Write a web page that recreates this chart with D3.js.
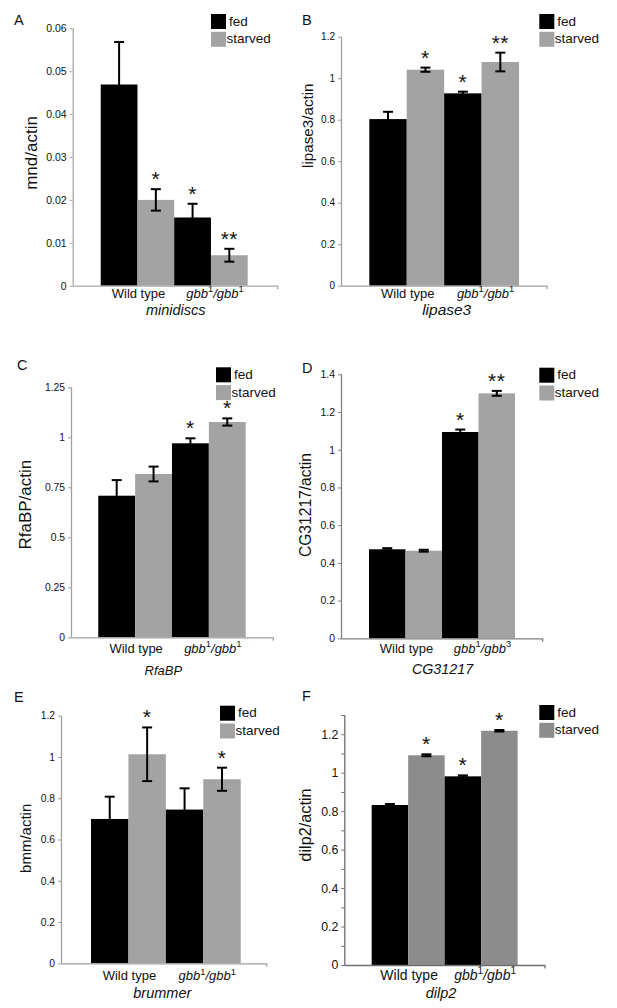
<!DOCTYPE html>
<html><head><meta charset="utf-8">
<script src="https://cdn.jsdelivr.net/npm/d3@7"></script>
<style>
body{margin:0;background:#fff}
svg{display:block}
text{font-family:"Liberation Sans",Arial,Helvetica,sans-serif;fill:#111}
</style>
</head><body>
<svg id="chart" width="617" height="1008"></svg>
<script>
// ---------------- DATA ----------------
const seriesNames = ["fed", "starved"];
const categories = ["Wild type", "gbb1/gbb1"];
const categoriesD = ["Wild type", "gbb1/gbb3"];

// A: minidiscs
const mndFed = [0.0469, 0.0159];
const mndFedErr = [0.0099, 0.0032];
const mndStarved = [0.0200, 0.0071];
const mndStarvedErr = [0.0025, 0.0015];
const mndFedSig = ["", "*"];
const mndStarvedSig = ["*", "**"];
const mndTicks = [0, 0.01, 0.02, 0.03, 0.04, 0.05, 0.06];
const mndTickLabels = ["0", "0.01", "0.02", "0.03", "0.04", "0.05", "0.06"];

// B: lipase3
const lipFed = [0.803, 0.927];
const lipFedErr = [0.035, 0.008];
const lipStarved = [1.041, 1.078];
const lipStarvedErr = [0.010, 0.045];
const lipFedSig = ["", "*"];
const lipStarvedSig = ["*", "**"];
const lipTicks = [0, 0.2, 0.4, 0.6, 0.8, 1, 1.2];
const lipTickLabels = ["0", "0.2", "0.4", "0.6", "0.8", "1", "1.2"];

// C: RfaBP
const rfaFed = [0.708, 0.970];
const rfaFedErr = [0.078, 0.025];
const rfaStarved = [0.8165, 1.0765];
const rfaStarvedErr = [0.037, 0.018];
const rfaFedSig = ["", "*"];
const rfaStarvedSig = ["", "*"];
const rfaTicks = [0, 0.25, 0.5, 0.75, 1, 1.25];
const rfaTickLabels = ["0", "0.25", "0.5", "0.75", "1", "1.25"];

// D: CG31217
const cgFed = [0.472, 1.094];
const cgFedErr = [0.006, 0.013];
const cgStarved = [0.4645, 1.299];
const cgStarvedErr = [0.005, 0.013];
const cgFedSig = ["", "*"];
const cgStarvedSig = ["", "**"];
const cgTicks = [0, 0.2, 0.4, 0.6, 0.8, 1, 1.2, 1.4];
const cgTickLabels = ["0", "0.2", "0.4", "0.6", "0.8", "1", "1.2", "1.4"];

// E: brummer
const bmmFed = [0.6995, 0.745];
const bmmFedErr = [0.108, 0.103];
const bmmStarved = [1.013, 0.892];
const bmmStarvedErr = [0.13, 0.056];
const bmmFedSig = ["", ""];
const bmmStarvedSig = ["*", "*"];
const bmmTicks = [0, 0.2, 0.4, 0.6, 0.8, 1, 1.2];
const bmmTickLabels = ["0", "0.2", "0.4", "0.6", "0.8", "1", "1.2"];

// F: dilp2
const dilpFed = [0.832, 0.981];
const dilpFedErr = [0.005, 0.005];
const dilpStarved = [1.0905, 1.218];
const dilpStarvedErr = [0.005, 0.004];
const dilpFedSig = ["", "*"];
const dilpStarvedSig = ["*", "*"];
const dilpTicks = [0, 0.2, 0.4, 0.6, 0.8, 1, 1.2];
const dilpTickLabels = ["0", "0.2", "0.4", "0.6", "0.8", "1", "1.2"];
const dilpMinorTicks = [0.1, 0.3, 0.5, 0.7, 0.9, 1.1, 1.3];

// ---------------- PANELS (data + layout) ----------------
const panels = [
  {letter:"A", title:"mnd/actin", gene:"minidiscs", cats:categories, max:0.06,
   fed:mndFed, fedErr:mndFedErr, starved:mndStarved, starvedErr:mndStarvedErr,
   fedSig:mndFedSig, starvedSig:mndStarvedSig, ticks:mndTicks, tickLabels:mndTickLabels, minor:[],
   L:{xL:72.7, xR:277.7, yB:285.7, yT:28.3, pad:0.395, align:0.483,
      letterX:14, letterY:25, titleX:31, titleY:153, titleSize:17,
      legX:211, legY:14, labY:297.7, geneX:175.7, geneY:315, geneSize:14.5,
      tickSize:10.5, labSize:13, axis:"#a8a8a8", starvedColor:"#a3a3a3"}},
  {letter:"B", title:"lipase3/actin", gene:"lipase3", cats:categories, max:1.2,
   fed:lipFed, fedErr:lipFedErr, starved:lipStarved, starvedErr:lipStarvedErr,
   fedSig:lipFedSig, starvedSig:lipStarvedSig, ticks:lipTicks, tickLabels:lipTickLabels, minor:[],
   L:{xL:341, xR:547, yB:285.7, yT:36.7, pad:0.376, align:0.503,
      letterX:302, letterY:25, titleX:307.5, titleY:125.7, titleSize:15.2,
      legX:539.3, legY:14, labY:297.7, geneX:446.7, geneY:315, geneSize:15.5,
      tickSize:10, labSize:13, axis:"#a0a0a0", starvedColor:"#a3a3a3"}},
  {letter:"C", title:"RfaBP/actin", gene:"RfaBP", cats:categories, max:1.25,
   fed:rfaFed, fedErr:rfaFedErr, starved:rfaStarved, starvedErr:rfaStarvedErr,
   fedSig:rfaFedSig, starvedSig:rfaStarvedSig, ticks:rfaTicks, tickLabels:rfaTickLabels, minor:[],
   L:{xL:71, xR:273.3, yB:637.3, yT:387.3, pad:0.372, align:0.497,
      letterX:17, letterY:370, titleX:25.5, titleY:504.7, titleSize:17,
      legX:216, legY:367.3, labY:652.7, geneX:163.3, geneY:675, geneSize:13,
      tickSize:10.3, labSize:13, axis:"#a0a0a0", starvedColor:"#a3a3a3"}},
  {letter:"D", title:"CG31217/actin", gene:"CG31217", cats:categoriesD, max:1.4,
   fed:cgFed, fedErr:cgFedErr, starved:cgStarved, starvedErr:cgStarvedErr,
   fedSig:cgFedSig, starvedSig:cgStarvedSig, ticks:cgTicks, tickLabels:cgTickLabels, minor:[],
   L:{xL:341, xR:542.7, yB:638.3, yT:374.3, pad:0.381, align:0.503,
      letterX:302, letterY:373, titleX:306, titleY:505, titleSize:15.6,
      legX:539.3, legY:367.7, labY:652.7, geneX:442.5, geneY:674, geneSize:14.3,
      tickSize:10.5, labSize:13, axis:"#808080", starvedColor:"#a3a3a3"}},
  {letter:"E", title:"bmm/actin", gene:"brummer", cats:categories, max:1.2,
   fed:bmmFed, fedErr:bmmFedErr, starved:bmmStarved, starvedErr:bmmStarvedErr,
   fedSig:bmmFedSig, starvedSig:bmmStarvedSig, ticks:bmmTicks, tickLabels:bmmTickLabels, minor:[],
   L:{xL:61, xR:266.7, yB:963.3, yT:715.7, pad:0.374, align:0.536,
      letterX:14, letterY:702, titleX:25.5, titleY:838.3, titleSize:15,
      legX:220, legY:705.7, labY:980, geneX:162.3, geneY:998.3, geneSize:14.5,
      tickSize:10.3, labSize:13, axis:"#a0a0a0", starvedColor:"#a3a3a3"}},
  {letter:"F", title:"dilp2/actin", gene:"dilp2", cats:categories, max:1.3,
   fed:dilpFed, fedErr:dilpFedErr, starved:dilpStarved, starvedErr:dilpStarvedErr,
   fedSig:dilpFedSig, starvedSig:dilpStarvedSig, ticks:dilpTicks, tickLabels:dilpTickLabels, minor:dilpMinorTicks,
   L:{xL:344.3, xR:545, yB:965, yT:715, pad:0.375, align:0.5,
      letterX:302, letterY:700.7, titleX:305, titleY:825, titleSize:16.3,
      legX:539.3, legY:705, labY:980, geneX:441, geneY:997.5, geneSize:14.5,
      tickSize:12.3, labSize:14, axis:"#707070", starvedColor:"#8c8c8c"}}
];

// ---------------- DRAW ----------------
const svg = d3.select("#chart");

function categoryLabel(sel, label, size) {
  const m = label.match(/^gbb(\d)\/gbb(\d)$/);
  if (!m) { sel.text(label); return; }
  const sup = size * 0.72;
  sel.append("tspan").attr("font-style", "italic").text("gbb");
  sel.append("tspan").attr("font-size", sup).attr("dy", -size * 0.42).text(m[1]);
  sel.append("tspan").attr("font-style", "italic").attr("dy", size * 0.42).text("/gbb");
  sel.append("tspan").attr("font-size", sup).attr("dy", -size * 0.42).text(m[2]);
}

panels.forEach(p => {
  const L = p.L;
  const g = svg.append("g");

  const y = d3.scaleLinear().domain([0, p.max]).range([L.yB, L.yT]);
  const x0 = d3.scaleBand().domain(p.cats).range([L.xL, L.xR])
    .paddingInner(0).paddingOuter(L.pad).align(L.align);
  const x1 = d3.scaleBand().domain(seriesNames).range([0, x0.bandwidth()]).padding(0);
  const color = d3.scaleOrdinal().domain(seriesNames).range(["#000000", L.starvedColor]);

  const rows = [];
  p.cats.forEach((c, i) => {
    rows.push({cat: c, s: "fed", v: p.fed[i], e: p.fedErr[i], sig: p.fedSig[i]});
    rows.push({cat: c, s: "starved", v: p.starved[i], e: p.starvedErr[i], sig: p.starvedSig[i]});
  });

  // bars
  g.append("g").selectAll("rect").data(rows).join("rect")
    .attr("x", d => x0(d.cat) + x1(d.s))
    .attr("width", x1.bandwidth())
    .attr("y", d => y(d.v))
    .attr("height", d => y(0) - y(d.v))
    .attr("fill", d => color(d.s));

  // axes
  const yAxis = d3.axisLeft(y).tickValues(p.ticks)
    .tickFormat((d, i) => p.tickLabels[i]).tickSizeInner(3).tickSizeOuter(0).tickPadding(3);
  const ya = g.append("g").attr("transform", `translate(${L.xL},0)`).call(yAxis);
  ya.select(".domain").attr("stroke", L.axis).attr("stroke-width", 1.3)
    .attr("d", `M0.5,${y(p.max)}V${y(0)}`);
  ya.selectAll(".tick line").attr("stroke", L.axis).attr("stroke-width", 1);
  ya.selectAll(".tick text").attr("font-size", L.tickSize)
    .style("font-family", '"Liberation Sans",Arial,sans-serif').attr("fill", "#222");

  if (p.minor.length) {
    const minorAxis = d3.axisLeft(y).tickValues(p.minor).tickFormat("").tickSizeInner(3).tickSizeOuter(0);
    const ma = g.append("g").attr("transform", `translate(${L.xL},0)`).call(minorAxis);
    ma.select(".domain").remove();
    ma.selectAll(".tick line").attr("stroke", L.axis);
  }

  const xAxis = d3.axisBottom(x0).tickValues([]).tickSizeOuter(3);
  const xa = g.append("g").attr("transform", `translate(0,${L.yB})`).call(xAxis);
  xa.select(".domain").attr("stroke", L.axis).attr("stroke-width", 1.3)
    .attr("d", `M${L.xL},0.5H${L.xR}V3.5`);

  // error bars
  const eb = g.append("g").attr("stroke", "#000").attr("stroke-width", 2).attr("fill", "none");
  rows.forEach(d => {
    const cx = x0(d.cat) + x1(d.s) + x1.bandwidth() / 2;
    const yt = y(d.v + d.e), yb = y(d.v - d.e);
    eb.append("line").attr("x1", cx).attr("x2", cx).attr("y1", yt).attr("y2", yb);
    eb.append("line").attr("x1", cx - 5).attr("x2", cx + 5).attr("y1", yt).attr("y2", yt);
    eb.append("line").attr("x1", cx - 5).attr("x2", cx + 5).attr("y1", yb).attr("y2", yb);
  });

  // significance stars
  g.append("g").selectAll("text").data(rows.filter(d => d.sig)).join("text")
    .attr("x", d => x0(d.cat) + x1(d.s) + x1.bandwidth() / 2)
    .attr("y", d => y(d.v + d.e) - 3)
    .attr("text-anchor", "middle").attr("font-size", 21).attr("letter-spacing", 0.5)
    .text(d => d.sig);

  // category labels
  p.cats.forEach((c, i) => {
    const t = g.append("text")
      .attr("x", x0(c) + x0.bandwidth() / 2 + (i === 1 ? 4 : 1))
      .attr("y", L.labY).attr("text-anchor", "middle").attr("font-size", L.labSize);
    categoryLabel(t, c, L.labSize);
  });

  // gene name
  g.append("text").attr("x", L.geneX).attr("y", L.geneY).attr("text-anchor", "middle")
    .attr("font-size", L.geneSize).attr("font-style", "italic").text(p.gene);

  // y title
  g.append("text").attr("transform", `translate(${L.titleX},${L.titleY}) rotate(-90)`)
    .attr("text-anchor", "middle").attr("dy", "0.35em").attr("font-size", L.titleSize)
    .text(p.title);

  // panel letter
  g.append("text").attr("x", L.letterX).attr("y", L.letterY).attr("font-size", 14.5).text(p.letter);

  // legend
  const leg = g.append("g").attr("transform", `translate(${L.legX},${L.legY})`);
  seriesNames.forEach((s, i) => {
    leg.append("rect").attr("x", 0).attr("y", i * 17.8).attr("width", 15).attr("height", 15)
      .attr("fill", color(s));
    leg.append("text").attr("x", i === 0 ? 18 : 15.5).attr("y", i * 17.8 + 11.5)
      .attr("font-size", 13.5).text(s);
  });
});
</script>
</body></html>
